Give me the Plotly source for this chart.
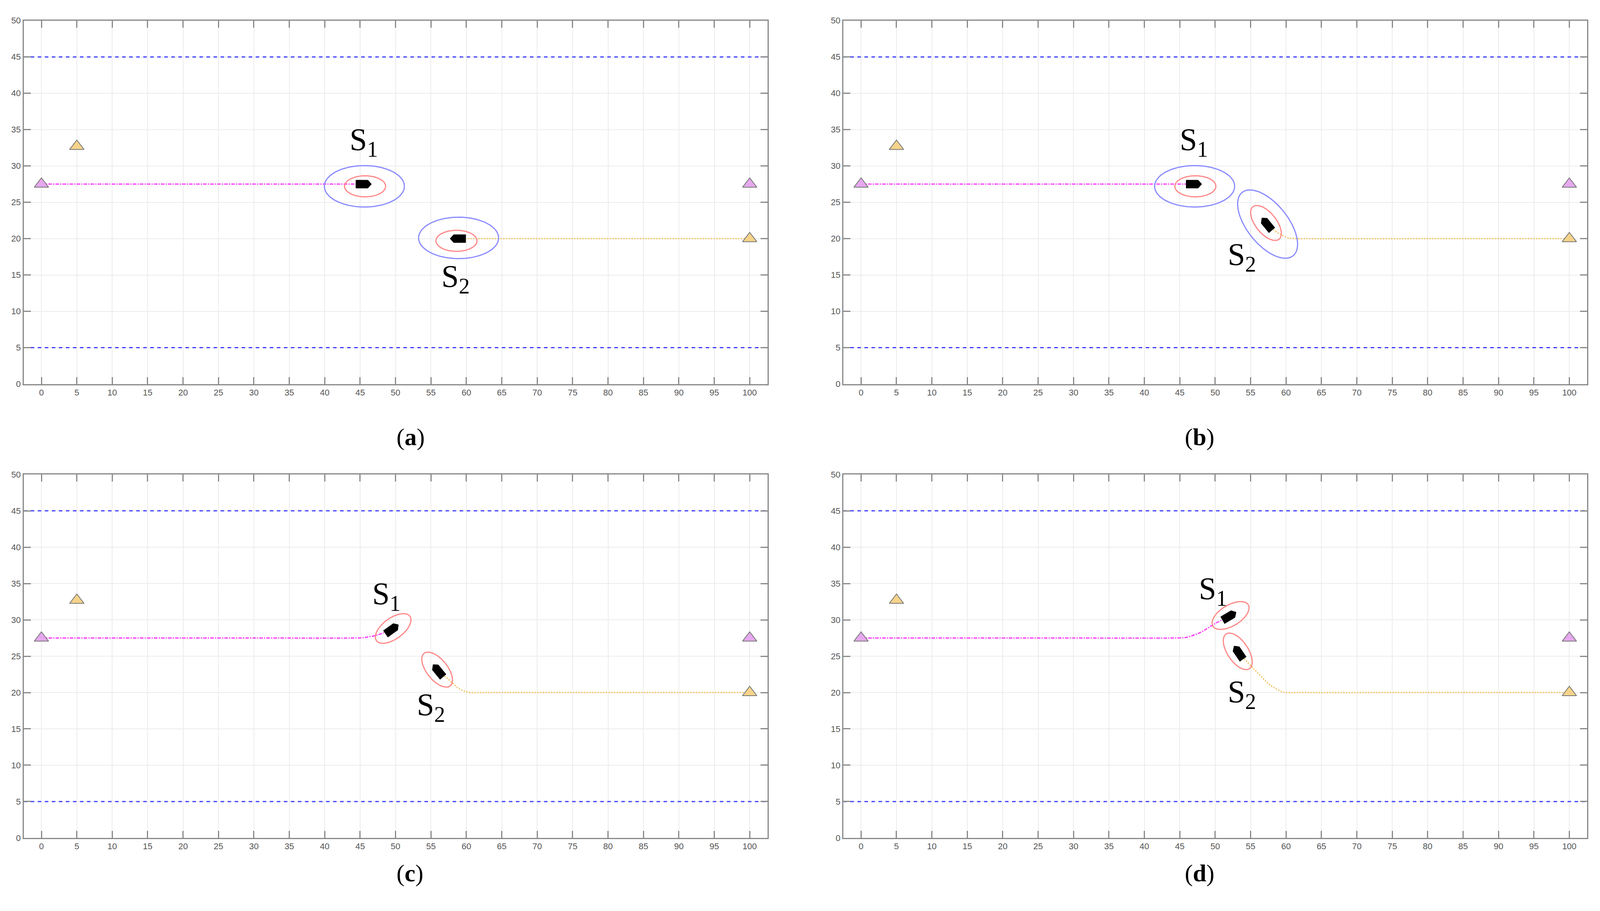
import numpy as np
import plotly.graph_objects as go

# ---- data ----
panels = ["a", "b", "c", "d"]
x_ticks = list(range(0, 101, 5))
y_ticks = list(range(0, 51, 5))
boundary_y = [45, 5]
start_tri_purple = ([0, 100], [27.5, 27.5])
start_tri_orange = ([5, 100], [32.7, 20.0])

s1_path_x = {"a": [0, 45.5], "b": [0, 47],
             "c": [0, 30, 44, 45.5, 47, 48.3, 49.5], "d": [0, 30, 44, 46, 48, 50, 52]}
s1_path_y = {"a": [27.5, 27.5], "b": [27.5, 27.5],
             "c": [27.5, 27.5, 27.5, 27.55, 27.8, 28.2, 28.7], "d": [27.5, 27.5, 27.5, 27.6, 28.3, 29.5, 30.5]}
s2_path_x = {"a": [59, 100], "b": [57.3, 59, 60.5, 63, 80, 100],
             "c": [56, 57.5, 59, 60.3, 63, 80, 100], "d": [53.3, 55.5, 57.8, 59.6, 62, 80, 100]}
s2_path_y = {"a": [20, 20], "b": [22, 20.7, 20.05, 20, 20, 20],
             "c": [23, 21.8, 20.5, 20.02, 20, 20, 20], "d": [25.5, 23.2, 21.0, 20.05, 20, 20, 20]}

ship1 = {"a": (45.5, 27.5, 0), "b": (47, 27.5, 0), "c": (49.5, 28.7, 35), "d": (52, 30.5, 30)}
ship2 = {"a": (58.8, 20.0, 180), "b": (57.3, 22.0, 130), "c": (56, 23.0, 130), "d": (53.3, 25.5, 125)}
show_blue = {"a": True, "b": True, "c": False, "d": False}
label1 = {"a": (45.5, 33.3), "b": (47, 33.3), "c": (48.7, 33.3), "d": (49.7, 34.0)}
label2 = {"a": (58.5, 14.5), "b": (53.8, 17.5), "c": (55.0, 18.0), "d": (53.8, 19.8)}
red_axes = (2.9, 1.45)
blue_axes = (5.65, 2.85)

# ---- layout geometry ----
W, H = 4277, 2331
xdom = {"a": (55 / W, 2043 / W), "b": (2246 / W, 4234 / W),
        "c": (55 / W, 2043 / W), "d": (2246 / W, 4234 / W)}
ydom = {"a": (1 - 973 / H, 1 - 33 / H), "b": (1 - 973 / H, 1 - 33 / H),
        "c": (1 - 2147 / H, 1 - 1207 / H), "d": (1 - 2147 / H, 1 - 1207 / H)}
cap_y = {"a": 1 - 1110 / H, "b": 1 - 1110 / H, "c": 1 - 2275 / H, "d": 1 - 2275 / H}

fig = go.Figure()
layout = dict(autosize=True, margin=dict(l=0, r=0, t=0, b=0),
              paper_bgcolor="white", plot_bgcolor="white", showlegend=False,
              annotations=[])


def ellipse(cx, cy, a, b, deg):
    t = np.linspace(0, 2 * np.pi, 120)
    th = np.radians(deg)
    ex, ey = a * np.cos(t), b * np.sin(t)
    return cx + ex * np.cos(th) - ey * np.sin(th), cy + ex * np.sin(th) + ey * np.cos(th)


def ship(cx, cy, deg):
    px = np.array([-1.1, 0.6, 1.1, 0.6, -1.1, -1.1])
    py = np.array([-0.55, -0.55, 0, 0.55, 0.55, -0.55])
    th = np.radians(deg)
    return cx + px * np.cos(th) - py * np.sin(th), cy + px * np.sin(th) + py * np.cos(th)


for i, p in enumerate(panels):
    n = "" if i == 0 else str(i + 1)
    xa, ya = "x" + n, "y" + n
    for by in boundary_y:
        fig.add_trace(go.Scatter(x=[-2.5, 102.5], y=[by, by], mode="lines", xaxis=xa, yaxis=ya,
                                 line=dict(color="#3b3bff", width=3, dash="dash")))
    fig.add_trace(go.Scatter(x=s1_path_x[p], y=s1_path_y[p], mode="lines", xaxis=xa, yaxis=ya,
                             line=dict(color="#ff33ff", width=3, dash="dashdot", shape="spline", smoothing=0.6)))
    fig.add_trace(go.Scatter(x=s2_path_x[p], y=s2_path_y[p], mode="lines", xaxis=xa, yaxis=ya,
                             line=dict(color="#f3c56c", width=3.5, dash="dot", shape="spline", smoothing=0.6)))
    fig.add_trace(go.Scatter(x=start_tri_purple[0], y=start_tri_purple[1], mode="markers", xaxis=xa, yaxis=ya,
                             marker=dict(symbol="triangle-up", size=32, color="#e6a8ee",
                                         line=dict(color="#777777", width=2))))
    fig.add_trace(go.Scatter(x=start_tri_orange[0], y=start_tri_orange[1], mode="markers", xaxis=xa, yaxis=ya,
                             marker=dict(symbol="triangle-up", size=32, color="#f5d38a",
                                         line=dict(color="#777777", width=2))))
    for (cx, cy, hd) in (ship1[p], ship2[p]):
        if show_blue[p]:
            ex, ey = ellipse(cx + 0.1, cy - 0.3 if hd == 0 else cy + 0.1 if hd == 180 else cy, *blue_axes, hd)
            fig.add_trace(go.Scatter(x=ex, y=ey, mode="lines", xaxis=xa, yaxis=ya,
                                     line=dict(color="#8a8aff", width=3)))
        ex, ey = ellipse(cx + 0.2 * np.cos(np.radians(hd)), cy + 0.2 * np.sin(np.radians(hd)) - (0.3 if hd in (0, 180) else 0),
                         *red_axes, hd)
        fig.add_trace(go.Scatter(x=ex, y=ey, mode="lines", xaxis=xa, yaxis=ya,
                                 line=dict(color="#ff8888", width=3)))
        sx, sy = ship(cx, cy, hd)
        fig.add_trace(go.Scatter(x=sx, y=sy, mode="lines", fill="toself", xaxis=xa, yaxis=ya,
                                 fillcolor="black", line=dict(color="black", width=1)))
    for (lx, ly), lab in ((label1[p], "S<sub>1</sub>"), (label2[p], "S<sub>2</sub>")):
        layout["annotations"].append(dict(x=lx, y=ly, xref=xa, yref=ya, text=lab, showarrow=False,
                                          font=dict(family="Liberation Serif", size=80, color="black")))
    layout["annotations"].append(dict(x=sum(xdom[p]) / 2, y=cap_y[p], xref="paper", yref="paper",
                                      text="(<b>%s</b>)" % p, showarrow=False,
                                      font=dict(family="Liberation Serif", size=62, color="black")))
    ax = dict(showline=True, linecolor="#888888", linewidth=3, mirror="ticks", ticks="inside",
              ticklen=18, tickwidth=3, tickcolor="#888888", showgrid=True, gridcolor="#ececec",
              gridwidth=2, zeroline=False, tickfont=dict(family="Liberation Sans", size=22, color="#555555"))
    layout["xaxis" + n] = dict(ax, domain=xdom[p], range=[-2.5, 102.5], tickvals=x_ticks, anchor=ya)
    layout["yaxis" + n] = dict(ax, domain=ydom[p], range=[0, 50], tickvals=y_ticks, anchor=xa)

fig.update_layout(**layout)
fig.write_html("out.html", default_width="100vw", default_height="100vh")
